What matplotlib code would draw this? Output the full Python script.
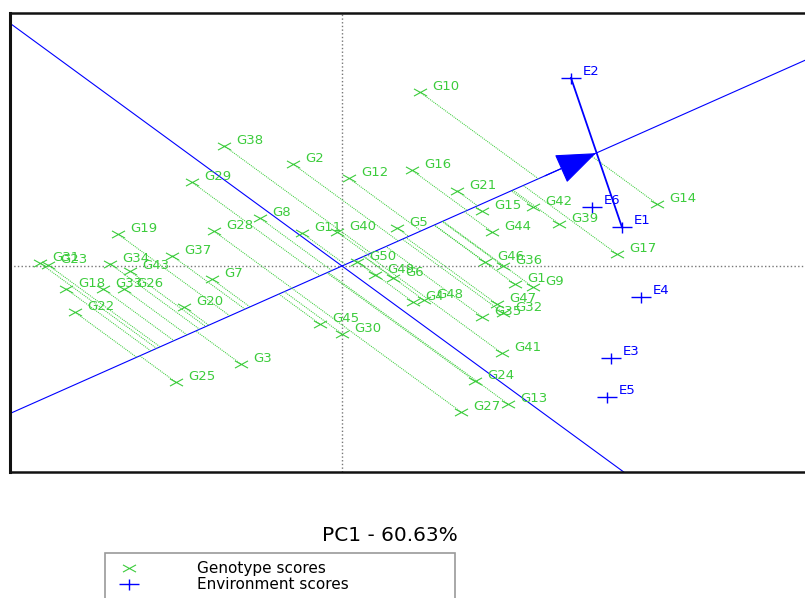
import numpy as np
import matplotlib
matplotlib.use("Agg")
import matplotlib.pyplot as plt
from matplotlib.path import Path
from matplotlib.lines import Line2D

# GGE biplot, mean vs. stability view
geno_names = ["G%d" % i for i in range(1, 51)]
pc1_g = [1.73, -0.49, -1.01, 0.71, 0.55, 0.51, -1.30, -0.82, 1.91, 0.78,
         -0.40, 0.07, 1.66, 3.15, 1.40, 0.70, 2.75, -2.76, -2.24, -1.58,
         1.15, -2.67, -2.94, 1.33, -1.66, -2.18, 1.19, -1.28, -1.50, 0.00,
         -3.02, 1.61, -2.39, -2.32, 1.40, 1.61, -1.70, -1.18, 2.17, -0.05,
         1.60, 1.91, -2.12, 1.50, -0.22, 1.43, 1.55, 0.82, 0.33, 0.15]
pc2_g = [-0.32, 1.79, -1.72, -0.63, 0.67, -0.21, -0.23, 0.84, -0.37, 3.05,
         0.58, 1.54, -2.42, 1.09, 0.96, 1.68, 0.21, -0.40, 0.56, -0.72,
         1.32, -0.81, 0.02, -2.02, -2.04, -0.40, -2.56, 0.61, 1.47, -1.19,
         0.05, -0.82, -0.40, 0.04, -0.89, 0.00, 0.18, 2.11, 0.74, 0.60,
         -1.53, 1.04, -0.09, 0.60, -1.02, 0.07, -0.67, -0.60, -0.16, 0.07]

env_names = ["E1", "E2", "E3", "E4", "E5", "E6"]
pc1_e = [2.80, 2.29, 2.69, 2.99, 2.65, 2.50]
pc2_e = [0.68, 3.30, -1.61, -0.54, -2.30, 1.04]

# average environment coordinate (arrow)
aec = [2.54, 1.98]

green = "#3ccc3c"
blue = "#0000ff"

xmark = Path([(-1, -0.55), (1, 0.55), (-1, 0.55), (1, -0.55)],
             [Path.MOVETO, Path.LINETO, Path.MOVETO, Path.LINETO])
pmark = Path([(-1, 0), (1, 0), (0, -0.55), (0, 0.55)],
             [Path.MOVETO, Path.LINETO, Path.MOVETO, Path.LINETO])

fig = plt.figure(figsize=(8.05, 5.98), dpi=100)
ax = fig.add_axes([10/805, 1-472/598, 805/805, 459/598])
ax.set_xlim(-3.32, 4.73)
ax.set_ylim(-3.614, 4.439)
ax.set_xticks([])
ax.set_yticks([])
for s in ["left", "top", "bottom", "right"]:
    ax.spines[s].set_linewidth(1.8)
    ax.spines[s].set_color("#111111")
ax.spines["left"].set_linewidth(2.2)

ax.axhline(0, color="#777777", ls=":", lw=1.0, zorder=1)
ax.axvline(0, color="#777777", ls=":", lw=1.0, zorder=1)

# average environment axis and its perpendicular
ax.axline((0, 0), (aec[0], aec[1]), color=blue, lw=0.8, zorder=2)
ax.axline((0, 0), (-aec[1], aec[0]), color=blue, lw=0.8, zorder=2)

# projections of genotypes onto the AEA
u = np.array(aec) / np.hypot(aec[0], aec[1])
gx = np.array(pc1_g)
gy = np.array(pc2_g)
d = gx * u[0] + gy * u[1]
for x0, y0, t in zip(gx, gy, d):
    ax.plot([x0, t * u[0]], [y0, t * u[1]], color=green, lw=0.75,
            ls=(0, (1, 1)), zorder=2)

# line E2 - E1 and arrow
i1, i2 = env_names.index("E1"), env_names.index("E2")
ax.plot([pc1_e[i2], pc1_e[i1]], [pc2_e[i2], pc2_e[i1]], color=blue, lw=1.3, zorder=3)
ax.annotate("", xy=(aec[0], aec[1]), xytext=(aec[0] * 0.8, aec[1] * 0.8),
            arrowprops=dict(arrowstyle="-|>,head_length=1.3,head_width=0.5",
                            mutation_scale=20, color=blue, lw=0.8,
                            shrinkA=0, shrinkB=0), zorder=4)

ax.plot(gx, gy, ls="none", marker=xmark, ms=9.4, mec=green, mfc="none",
        mew=0.8, zorder=5)
ax.plot(pc1_e, pc2_e, ls="none", marker=pmark, ms=14.4, mec=blue, mfc="none",
        mew=1.0, zorder=5)

for name, x0, y0 in zip(geno_names, gx, gy):
    ax.annotate(name, (x0, y0), xytext=(8.6, 1.5), textcoords="offset points",
                fontsize=9.5, color=green, va="baseline", zorder=6)
for name, x0, y0 in zip(env_names, pc1_e, pc2_e):
    ax.annotate(name, (x0, y0), xytext=(8.6, 2.2), textcoords="offset points",
                fontsize=9.5, color=blue, va="baseline", zorder=6)

lab = ax.set_xlabel("PC1 - 60.63%", fontsize=14.5)
lab.set_va("baseline")
ax.xaxis.set_label_coords((390-10)/805, (472-541)/459)

handles = [Line2D([], [], ls="none", marker=xmark, ms=9.4, mec=green, mfc="none", mew=0.8),
           Line2D([], [], ls="none", marker=pmark, ms=14.4, mec=blue, mfc="none", mew=1.0)]
leg = fig.legend(handles, ["Genotype scores", "Environment scores"],
                 loc="upper left", bbox_to_anchor=(105/805, 1-553/598-0.1, 350/805, 0.1),
                 mode="expand", fancybox=False, edgecolor="#808080", fontsize=11,
                 borderpad=0.55, handlelength=2.0, handletextpad=3.5,
                 labelspacing=0.05, borderaxespad=0)
leg.get_frame().set_linewidth(1.2)

fig.savefig("out.png", dpi=100)
